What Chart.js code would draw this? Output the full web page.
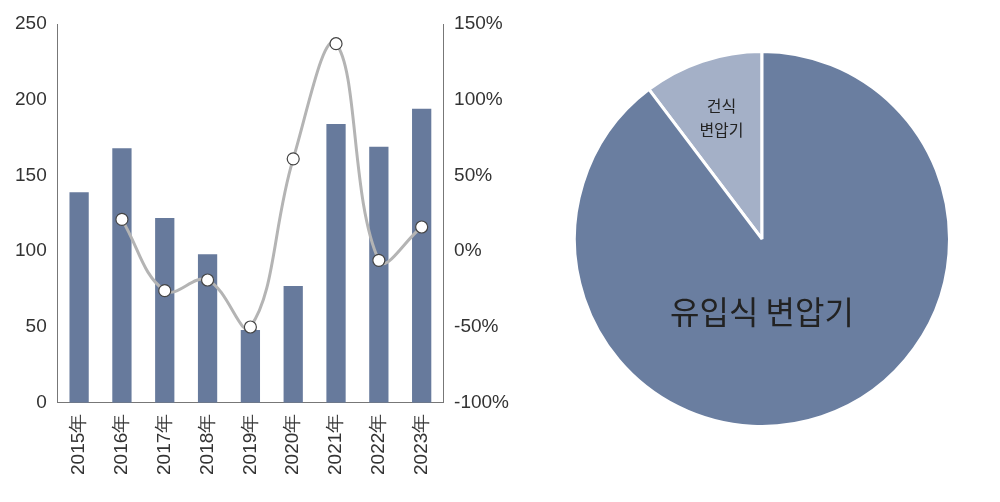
<!DOCTYPE html>
<html lang="ko">
<head>
<meta charset="UTF-8">
<title>변압기</title>
<style>
  body { margin: 0; background: #fff; }
  #barBox { position: absolute; left: 0; top: 0; width: 512px; height: 502px; }
  #pieBox { position: absolute; left: 560px; top: 50px; width: 404px; height: 378px; }
</style>
</head>
<body>
<div id="barBox"><canvas id="barChart"></canvas></div>
<div id="pieBox"><canvas id="pieChart"></canvas></div>
<script src="https://cdn.jsdelivr.net/npm/chart.js"></script>
<script>
const years = ['2015年', '2016年', '2017年', '2018年', '2019年', '2020年', '2021年', '2022年', '2023年']
const volumes = [139, 168, 122, 98, 48, 77, 184, 169, 194]
const growth = [null, 21, -26, -19, -50, 61, 137, -6, 16]
const pieLabels = ['건식\n변압기', '유입식 변압기']
const pieShares = [10.3, 89.7]

const font = { family: 'Liberation Sans, Arial', size: 19 }
const txt = '#333'

new Chart(document.getElementById('barChart'), {
  type: 'bar',
  data: {
    labels: years,
    datasets: [{
      type: 'line', data: growth, yAxisID: 'y1',
      borderColor: '#b4b4b4', borderWidth: 3, tension: 0.4,
      pointBackgroundColor: '#fff', pointBorderColor: '#444', pointBorderWidth: 1.2,
      pointRadius: 6, spanGaps: true
    }, {
      data: volumes, yAxisID: 'y', backgroundColor: '#677a9c',
      barPercentage: 0.45, categoryPercentage: 1
    }]
  },
  options: {
    responsive: true, maintainAspectRatio: false, animation: false,
    layout: { padding: { top: 24, left: 12, right: 0, bottom: 24 } },
    plugins: { legend: { display: false }, tooltip: { enabled: false } },
    scales: {
      x: {
        grid: { display: false, drawTicks: true, tickLength: 8 },
        border: { color: '#777' },
        ticks: { color: txt, font, maxRotation: 90, minRotation: 90 }
      },
      y: {
        min: 0, max: 250,
        ticks: { stepSize: 50, color: txt, font },
        grid: { display: false, tickLength: 8 },
        border: { color: '#777' }
      },
      y1: {
        position: 'right', min: -100, max: 150,
        ticks: { stepSize: 50, color: txt, font, callback: v => v + '%' },
        grid: { display: false, tickLength: 8 },
        border: { color: '#777' }
      }
    }
  }
})

const pieText = {
  id: 'pieText',
  afterDraw(chart) {
    const ctx = chart.ctx
    const arcs = chart.getDatasetMeta(0).data
    ctx.save()
    ctx.fillStyle = '#222'
    ctx.textAlign = 'center'
    ctx.textBaseline = 'middle'
    let a = arcs[0], mid = (a.startAngle + a.endAngle) / 2, r = a.outerRadius * 0.68
    ctx.font = '16px "Noto Sans CJK KR"'
    pieLabels[0].split('\n').forEach((l, i) => {
      ctx.fillText(l, a.x + Math.cos(mid) * r, a.y + Math.sin(mid) * r + (i - 0.5) * 24)
    })
    a = arcs[1]
    ctx.font = '32px "Noto Sans CJK KR"'
    ctx.fillText(pieLabels[1], a.x, a.y + a.outerRadius * 0.39)
    ctx.restore()
  }
}

new Chart(document.getElementById('pieChart'), {
  type: 'pie',
  data: {
    labels: pieLabels,
    datasets: [{
      data: pieShares, backgroundColor: ['#a4b0c7', '#6a7ea0'],
      borderColor: '#fff', borderWidth: 3
    }]
  },
  options: {
    responsive: true, maintainAspectRatio: false, animation: false,
    rotation: -pieShares[0] / 100 * 360,
    plugins: { legend: { display: false }, tooltip: { enabled: false } }
  },
  plugins: [pieText]
})
</script>
</body>
</html>
